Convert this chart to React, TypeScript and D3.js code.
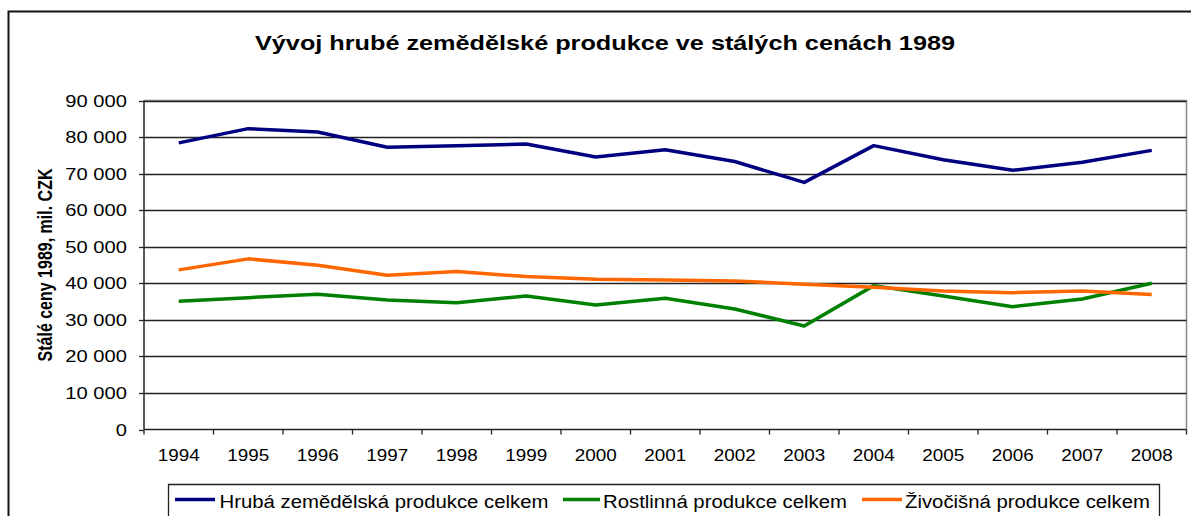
import React from "react";
import * as d3 from "d3";

const years = ["1994","1995","1996","1997","1998","1999","2000","2001","2002","2003","2004","2005","2006","2007","2008"];
const hruba = [78400, 82300, 81400, 77200, 77650, 78100, 74550, 76500, 73300, 67600, 77650, 73800, 70900, 73100, 76350];
const rostlinna = [35080, 36070, 37000, 35440, 34700, 36540, 34070, 35910, 32970, 28310, 39360, 36540, 33600, 35710, 40020];
const zivocisna = [43670, 46680, 44950, 42200, 43200, 41830, 41100, 40920, 40650, 39740, 38920, 37900, 37440, 37900, 36900];
const yTicks = [0, 10000, 20000, 30000, 40000, 50000, 60000, 70000, 80000, 90000];

const series = [
  { name: "Hrubá zemědělská produkce celkem", values: hruba, color: "#000080" },
  { name: "Rostlinná produkce celkem", values: rostlinna, color: "#008000" },
  { name: "Živočišná produkce celkem", values: zivocisna, color: "#FF6600" },
];

const W = 1191, H = 516;
const left = 144, right = 1186.5, top = 100.5, bottom = 429.5;

export default function App() {
  const x = d3.scaleBand<string>().domain(years).range([left, right]);
  const y = d3.scaleLinear().domain([0, 90000]).range([bottom, top]);
  const fmt = (v: number) => d3.format(",")(v).replace(/,/g, " ");
  const line = d3.line<number>()
    .x((_, i) => (x(years[i]) as number) + x.bandwidth() / 2)
    .y((v) => y(v));
  const font = "Arial, 'Liberation Sans', sans-serif";
  const legendItems = [
    { lx: 175, lw: 40, tx: 219.5, tl: 329 },
    { lx: 563, lw: 37, tx: 603, tl: 244 },
    { lx: 862, lw: 40, tx: 905, tl: 245 },
  ];
  return (
    <svg width={W} height={H} style={{ position: "absolute", left: 0, top: 0, display: "block" }} fontFamily={font}>
      <rect x={0} y={0} width={W} height={H} fill="#fff" />
      {/* outer border */}
      <path d={`M8.5,${H} V11.5 H${W}`} fill="none" stroke="#111" strokeWidth={2} />
      <text x={255} y={50} fontSize={21} fontWeight="bold" fill="#000" textLength={700} lengthAdjust="spacingAndGlyphs">
        Vývoj hrubé zemědělské produkce ve stálých cenách 1989
      </text>
      {/* plot border */}
      <path d={`M${left},${top} H${right} V${bottom}`} fill="none" stroke="#888" strokeWidth={1.5} />
      {/* gridlines */}
      {yTicks.filter((t) => t > 0).map((t) => (
        <line key={t} x1={left} x2={right} y1={Math.round(y(t)) + 0.5} y2={Math.round(y(t)) + 0.5} stroke="#222" strokeWidth={1.3} />
      ))}
      {/* y axis */}
      <line x1={left} x2={left} y1={top} y2={bottom} stroke="#222" strokeWidth={1.5} />
      {yTicks.map((t) => (
        <g key={t}>
          <line x1={left - 5} x2={left} y1={Math.round(y(t)) + 0.5} y2={Math.round(y(t)) + 0.5} stroke="#222" strokeWidth={1.3} />
          <text transform={`translate(127,${y(t) + 6}) scale(1.26,1)`} textAnchor="end" fontSize={16} fill="#000">{fmt(t)}</text>
        </g>
      ))}
      {/* x axis */}
      <line x1={left} x2={right} y1={bottom} y2={bottom} stroke="#222" strokeWidth={1.5} />
      {years.map((yr) => (
        <line key={"t" + yr} x1={(x(yr) as number)} x2={(x(yr) as number)} y1={bottom} y2={bottom + 5} stroke="#222" strokeWidth={1.3} />
      ))}
      <line x1={right} x2={right} y1={bottom} y2={bottom + 5} stroke="#222" strokeWidth={1.3} />
      {years.map((yr) => (
        <text key={yr} transform={`translate(${(x(yr) as number) + x.bandwidth() / 2},460.7) scale(1.18,1)`} textAnchor="middle" fontSize={16} fill="#000">{yr}</text>
      ))}
      <text transform={`translate(52,${265}) rotate(-90) scale(1,1.3)`} textAnchor="middle" fontSize={16} fontWeight="bold" fill="#000">
        Stálé ceny 1989, mil. CZK
      </text>
      {/* lines */}
      {series.map((s) => (
        <path key={s.name} d={line(s.values) as string} fill="none" stroke={s.color} strokeWidth={3.5} strokeLinejoin="round" />
      ))}
      {/* legend */}
      <path d={`M168.5,${H} V484.5 H1159.5 V${H}`} fill="none" stroke="#222" strokeWidth={1.3} />
      {series.map((s, i) => (
        <g key={"lg" + s.name}>
          <line x1={legendItems[i].lx} x2={legendItems[i].lx + legendItems[i].lw} y1={499.5} y2={499.5} stroke={s.color} strokeWidth={3.5} />
          <text x={legendItems[i].tx} y={508} fontSize={18} fill="#000" textLength={legendItems[i].tl} lengthAdjust="spacingAndGlyphs">{s.name}</text>
        </g>
      ))}
    </svg>
  );
}
